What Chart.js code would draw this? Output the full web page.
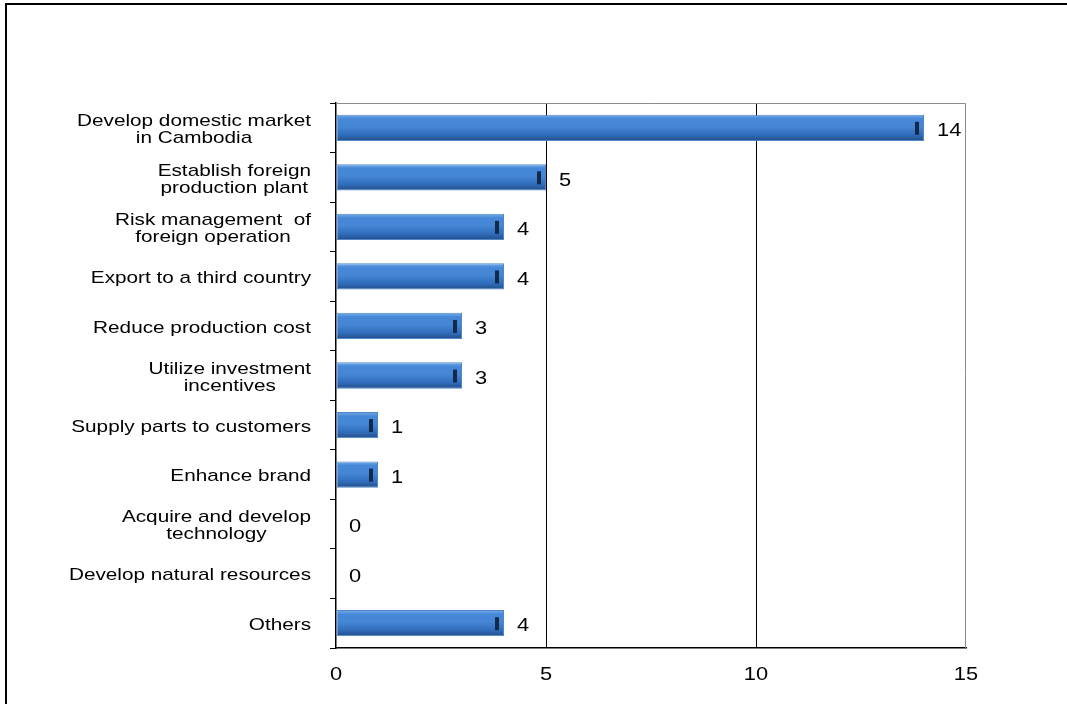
<!DOCTYPE html>
<html>
<head>
<meta charset="utf-8">
<script src="https://cdn.jsdelivr.net/npm/chart.js@4"></script>
<style>
  html, body { margin: 0; padding: 0; background: #fff; }
  #wrap { width: 1067px; height: 704px; position: relative; }
</style>
</head>
<body>
<div id="wrap"><canvas id="motiveChart" width="1067" height="704"></canvas></div>
<script>
/* Investment motives — horizontal bar */

const CATEGORIES = [
  ['Develop domestic market', 'in Cambodia'],
  ['Establish foreign', 'production plant'],
  ['Risk management  of', 'foreign operation'],
  ['Export to a third country'],
  ['Reduce production cost'],
  ['Utilize investment', 'incentives'],
  ['Supply parts to customers'],
  ['Enhance brand'],
  ['Acquire and develop', 'technology'],
  ['Develop natural resources'],
  ['Others'],
];
const COUNTS = [14, 5, 4, 4, 3, 3, 1, 1, 0, 0, 4];
const X_TICKS = [0, 5, 10, 15];

const FONT = "'Liberation Sans', Arial, sans-serif";

function barFill(c) {
  const chart = c.chart;
  const y = chart.scales && chart.scales.y;
  if (!y || c.dataIndex === undefined) return '#3c7fd0';
  const yc = y.getPixelForValue(c.dataIndex);
  if (!isFinite(yc)) return '#3c7fd0';
  const g = chart.ctx.createLinearGradient(0, yc - 13, 0, yc + 13);
  g.addColorStop(0, '#78aeea');
  g.addColorStop(0.15, '#4688d8');
  g.addColorStop(0.45, '#4586d5');
  g.addColorStop(0.75, '#316fbe');
  g.addColorStop(1, '#234e8a');
  return g;
}

// stretched text, the source picture is wider than tall
function wideText(ctx, s, x, y, sx, align) {
  ctx.save();
  ctx.translate(x, y);
  ctx.scale(sx, 1);
  ctx.textAlign = align;
  ctx.fillText(s, 0, 0);
  ctx.restore();
}

// frame, plot border, labels
const decor = {
  id: 'decor',
  beforeDraw(chart) {
    const ctx = chart.ctx;
    ctx.save();
    ctx.fillStyle = '#fff';
    ctx.fillRect(0, 0, chart.width, chart.height);
    ctx.strokeStyle = '#000';
    ctx.lineWidth = 2;
    ctx.beginPath();
    ctx.moveTo(6, chart.height);
    ctx.lineTo(6, 4);
    ctx.lineTo(chart.width, 4);
    ctx.stroke();
    ctx.restore();
  },
  afterDatasetsDraw(chart) {
    const ctx = chart.ctx;
    const a = chart.chartArea;
    ctx.save();
    // top and right plot border
    ctx.strokeStyle = '#8c8c8c';
    ctx.lineWidth = 1;
    ctx.beginPath();
    ctx.moveTo(a.left, a.top + 0.5);
    ctx.lineTo(a.right - 0.5, a.top + 0.5);
    ctx.lineTo(a.right - 0.5, a.bottom);
    ctx.stroke();

    const meta = chart.getDatasetMeta(0);
    // dark end cap on each bar
    meta.data.forEach((bar, i) => {
      if (!COUNTS[i]) return;
      ctx.fillStyle = '#14294a';
      ctx.fillRect(bar.x - 9, bar.y - 6, 4, 13);
    });

    ctx.fillStyle = '#000';
    ctx.textBaseline = 'middle';

    // value labels
    ctx.font = '19px ' + FONT;
    meta.data.forEach((bar, i) => {
      wideText(ctx, String(COUNTS[i]), bar.x + 13, bar.y + 3, 1.15, 'left');
    });

    // x tick labels
    const x = chart.scales.x;
    X_TICKS.forEach(v => {
      wideText(ctx, String(v), x.getPixelForValue(v), a.bottom + 27, 1.15, 'center');
    });

    // category labels: each block right-aligned, lines centred
    const y = chart.scales.y;
    ctx.font = '17px ' + FONT;
    const sx = 1.22;
    const right = 311;
    const lh = 17;
    CATEGORIES.forEach((lines, i) => {
      const w = sx * Math.max(...lines.map(s => ctx.measureText(s).width));
      const cx = right - w / 2;
      const yc = y.getPixelForValue(i);
      const y0 = yc - (lines.length - 1) * lh / 2 + 2;
      lines.forEach((s, k) => wideText(ctx, s, cx, y0 + k * lh, sx, 'center'));
    });
    ctx.restore();
  },
};

new Chart(document.getElementById('motiveChart'), {
  type: 'bar',
  data: {
    labels: CATEGORIES,
    datasets: [{
      data: COUNTS,
      backgroundColor: barFill,
      borderColor: '#4f88c9',
      borderWidth: 1,
      borderSkipped: false,
      categoryPercentage: 1,
      barPercentage: 0.53,
    }],
  },
  options: {
    indexAxis: 'y',
    responsive: false,
    animation: false,
    events: [],
    layout: { padding: { top: 103, right: 101, left: 0, bottom: 0 } },
    plugins: { legend: { display: false }, tooltip: { enabled: false } },
    scales: {
      x: {
        min: 0, max: 15,
        afterBuildTicks: s => { s.ticks = X_TICKS.map(v => ({ value: v })); },
        afterFit: s => { s.height = 56; },
        grid: {
          color: c => (c.tick && (c.tick.value === 5 || c.tick.value === 10)) ? '#000' : 'rgba(0,0,0,0)',
          drawTicks: false,
          lineWidth: 1,
        },
        border: { color: '#000', width: 1.5 },
        ticks: { display: false },
      },
      y: {
        afterFit: s => { s.width = 336; },
        grid: {
          offset: true,
          drawOnChartArea: false,
          drawTicks: true,
          tickLength: 6,
          color: '#000',
        },
        border: { color: '#000', width: 1.5 },
        ticks: { display: false },
      },
    },
  },
  plugins: [decor],
});
</script>
</body>
</html>
